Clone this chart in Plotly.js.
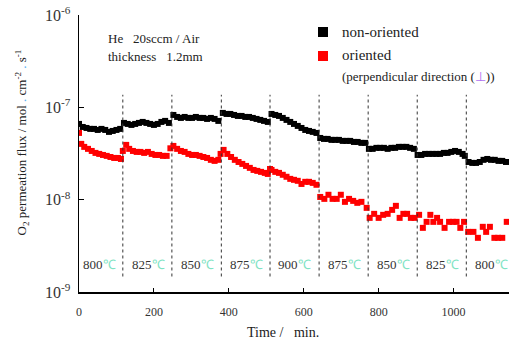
<!DOCTYPE html>
<html>
<head>
<meta charset="utf-8">
<script src="https://cdn.plot.ly/plotly-3.0.1.min.js"></script>
<style>
html,body{margin:0;padding:0;background:#fff;}
#chart{width:509px;height:341px;}
</style>
</head>
<body>
<div id="chart"></div>
<script>
// ---- data ----
const blackTime = [0,10,20,30,40,50,60,70,80,90,100,110,
  120,130,140,150,160,170,180,190,200,210,220,230,240,
  252,262,272,282,292,302,312,322,332,342,352,362,372,
  384,394,404,414,424,434,444,454,464,474,484,494,504,
  514,524,534,544,554,564,574,584,594,604,614,624,634,
  644,654,664,674,684,694,704,714,724,734,744,754,764,
  774,784,794,804,814,824,834,844,854,864,874,884,894,
  904,914,924,934,944,954,964,974,984,994,1004,1014,1024,1030,
  1040,1050,1060,1070,1080,1090,1100,1110,1120,1130,1140];
const blackFlux = [6.61e-8,6.13e-8,5.98e-8,5.84e-8,5.84e-8,5.69e-8,5.84e-8,5.69e-8,5.42e-8,5.55e-8,5.69e-8,5.84e-8,
  6.78e-8,6.61e-8,6.45e-8,6.61e-8,6.78e-8,6.95e-8,6.78e-8,6.61e-8,6.45e-8,6.61e-8,6.95e-8,7.13e-8,6.78e-8,
  8.27e-8,7.87e-8,7.68e-8,7.87e-8,7.68e-8,7.68e-8,7.87e-8,7.68e-8,7.68e-8,7.49e-8,7.68e-8,7.49e-8,7.13e-8,
  8.70e-8,8.48e-8,8.48e-8,8.27e-8,8.07e-8,8.07e-8,7.87e-8,7.87e-8,7.68e-8,7.49e-8,7.31e-8,7.13e-8,6.95e-8,
  8.48e-8,8.27e-8,8.07e-8,7.68e-8,7.31e-8,6.95e-8,6.61e-8,6.29e-8,5.98e-8,5.69e-8,5.55e-8,5.42e-8,5.28e-8,
  4.66e-8,4.55e-8,4.55e-8,4.44e-8,4.44e-8,4.44e-8,4.33e-8,4.33e-8,4.33e-8,4.22e-8,4.22e-8,4.12e-8,4.12e-8,
  3.55e-8,3.55e-8,3.64e-8,3.64e-8,3.64e-8,3.55e-8,3.64e-8,3.64e-8,3.73e-8,3.73e-8,3.73e-8,3.64e-8,3.55e-8,
  3.05e-8,3.05e-8,3.13e-8,3.13e-8,3.13e-8,3.13e-8,3.13e-8,3.21e-8,3.21e-8,3.29e-8,3.37e-8,3.29e-8,3.13e-8,2.98e-8,
  2.56e-8,2.50e-8,2.50e-8,2.56e-8,2.70e-8,2.76e-8,2.70e-8,2.70e-8,2.63e-8,2.63e-8,2.56e-8];

const redTime = [0,6,14,24,34,44,54,64,74,84,94,104,112,
  117,126,134,144,154,164,174,184,194,204,214,224,234,244,
  252,262,272,282,292,302,312,322,332,342,352,362,372,378,
  386,396,406,416,426,436,446,456,466,476,486,496,504,510,
  514,524,534,544,554,564,574,584,594,604,614,624,634,
  644,655,666,677,688,699,710,721,732,743,754,768,
  776,788,800,812,824,836,846,856,866,876,886,896,
  908,918,928,938,946,956,964,976,988,998,1008,1018,1028,
  1039,1053,1065,1078,1087,1097,1109,1119,1130,1142];
const redFlux = [5.28e-8,4.02e-8,3.73e-8,3.55e-8,3.37e-8,3.21e-8,3.13e-8,3.05e-8,2.98e-8,2.90e-8,2.83e-8,2.83e-8,2.76e-8,
  3.37e-8,3.92e-8,3.55e-8,3.37e-8,3.29e-8,3.29e-8,3.21e-8,3.29e-8,3.13e-8,3.05e-8,3.05e-8,2.98e-8,2.98e-8,3.60e-8,
  3.82e-8,3.55e-8,3.37e-8,3.29e-8,3.13e-8,3.05e-8,3.05e-8,2.98e-8,2.90e-8,2.83e-8,2.70e-8,2.63e-8,2.70e-8,3.13e-8,
  3.46e-8,3.13e-8,2.90e-8,2.70e-8,2.56e-8,2.44e-8,2.32e-8,2.21e-8,2.10e-8,2.05e-8,2.00e-8,1.95e-8,1.90e-8,2.15e-8,
  2.10e-8,2.00e-8,1.95e-8,1.86e-8,1.77e-8,1.68e-8,1.64e-8,1.60e-8,1.48e-8,1.56e-8,1.56e-8,1.52e-8,1.45e-8,
  1.07e-8,1.02e-8,1.13e-8,1.02e-8,1.02e-8,1.13e-8,9.47e-9,1.02e-8,9.70e-9,9.24e-9,9.47e-9,8.15e-9,
  6.35e-9,7.02e-9,6.35e-9,6.85e-9,7.02e-9,7.75e-9,8.57e-9,6.35e-9,7.02e-9,7.02e-9,6.35e-9,6.35e-9,
  6.85e-9,4.95e-9,5.75e-9,6.85e-9,5.75e-9,6.35e-9,5.75e-9,4.95e-9,5.75e-9,5.75e-9,5.75e-9,4.95e-9,5.75e-9,
  4.48e-9,4.48e-9,3.86e-9,5.08e-9,4.48e-9,5.08e-9,3.86e-9,3.86e-9,3.86e-9,5.75e-9];

const stepTimes = [117,248,380,510,641,772,903,1034];
const tempLabels = ['800','825','850','875','900','875','850','825','800'];
const tempLabelTimes = [54,185,317,447,576,710,839,970,1101];
const xTicks = [0,200,400,600,800,1000];
const yTicks = [1e-9,1e-8,1e-7,1e-6];
const yTickText = ['10<sup>-9</sup>','10<sup>-8</sup>','10<sup>-7</sup>','10<sup>-6</sup>'];
const seriesNames = ['non-oriented','oriented'];

// ---- styling ----
const SERIF = 'Liberation Serif, Times New Roman, serif';
const NB = '\u00a0';
const DOT = NB + '<span style="color:#5fb4f5">.</span>' + NB;

const traces = [
  {x: blackTime, y: blackFlux, type:'scatter', mode:'markers', name: seriesNames[0],
   marker:{symbol:'square', size:6, color:'#000000', line:{width:0}}},
  {x: redTime, y: redFlux, type:'scatter', mode:'markers', name: seriesNames[1],
   marker:{symbol:'square', size:6, color:'#ff0000', line:{width:0}}}
];

const shapes = stepTimes.map(t => ({
  type:'line', xref:'x', yref:'paper', x0:t, x1:t, y0:0.056, y1:0.712,
  line:{color:'#333333', width:1, dash:'dot'}
}));
// legend squares
shapes.push({type:'rect', xref:'paper', yref:'paper', x0:0.5558, x1:0.5791, y0:0.9206, y1:0.9567,
  fillcolor:'#000000', line:{width:0}});
shapes.push({type:'rect', xref:'paper', yref:'paper', x0:0.5558, x1:0.5791, y0:0.8339, y1:0.8700,
  fillcolor:'#ff0000', line:{width:0}});

const annotations = tempLabels.map((lab, i) => ({
  x: tempLabelTimes[i], xref:'x', y:0.0975, yref:'paper', showarrow:false,
  xanchor:'center', yanchor:'middle',
  text: lab + '<span style="color:#7fe3c3">℃</span>',
  font:{family:SERIF, size:13, color:'#333333'}
}));
annotations.push(
  {x:0.607, y:0.9386, xref:'paper', yref:'paper', xanchor:'left', yanchor:'middle', showarrow:false,
   text: seriesNames[0], font:{family:SERIF, size:15, color:'#222222'}},
  {x:0.607, y:0.8556, xref:'paper', yref:'paper', xanchor:'left', yanchor:'middle', showarrow:false,
   text: seriesNames[1], font:{family:SERIF, size:15, color:'#222222'}},
  {x:0.607, y:0.7762, xref:'paper', yref:'paper', xanchor:'left', yanchor:'middle', showarrow:false,
   text: '(perpendicular direction (<span style="color:#b070f0">⊥</span>))', font:{family:SERIF, size:13, color:'#222222'}},
  {x:0.0628, y:0.9134, xref:'paper', yref:'paper', xanchor:'left', yanchor:'middle', showarrow:false,
   text: 'He' + NB+NB+NB + '20sccm / Air', font:{family:SERIF, size:13, color:'#222222'}},
  {x:0.0628, y:0.8495, xref:'paper', yref:'paper', xanchor:'left', yanchor:'middle', showarrow:false,
   text: 'thickness' + NB+NB+NB + '1.2mm', font:{family:SERIF, size:13, color:'#222222'}},
  {x:0.474, y:-0.148, xref:'paper', yref:'paper', xanchor:'center', yanchor:'middle', showarrow:false,
   text: 'Time /' + NB+NB+NB + 'min.', font:{family:SERIF, size:14, color:'#222222'}},
  {x:-0.1326, y:0.54, xref:'paper', yref:'paper', xanchor:'center', yanchor:'middle', showarrow:false,
   textangle:-90,
   text: 'O<sub>2</sub> permeation flux / mol' + DOT + 'cm<sup>-2</sup>' + DOT + 's<sup>-1</sup>',
   font:{family:SERIF, size:13, color:'#222222'}}
);

const layout = {
  width:509, height:341,
  margin:{l:79, r:0, t:15, b:49},
  paper_bgcolor:'#ffffff', plot_bgcolor:'#ffffff',
  showlegend:false,
  xaxis:{range:[0,1148], tickvals:xTicks, ticks:'inside', ticklen:4, tickcolor:'#000',
    showline:true, linecolor:'#000', linewidth:1.5, showgrid:false, zeroline:false,
    ticklabelstandoff:8, tickfont:{family:SERIF, size:12, color:'#333333'}},
  yaxis:{type:'log', range:[-9,-6], tickvals:yTicks, ticktext:yTickText, ticks:'inside', ticklen:5,
    tickcolor:'#000', showline:true, linecolor:'#000', linewidth:1.5, showgrid:false, zeroline:false,
    ticklabelstandoff:4, tickfont:{family:SERIF, size:16, color:'#333333'}},
  shapes: shapes,
  annotations: annotations
};

Plotly.newPlot('chart', traces, layout, {staticPlot:true, displayModeBar:false});
</script>
</body>
</html>
